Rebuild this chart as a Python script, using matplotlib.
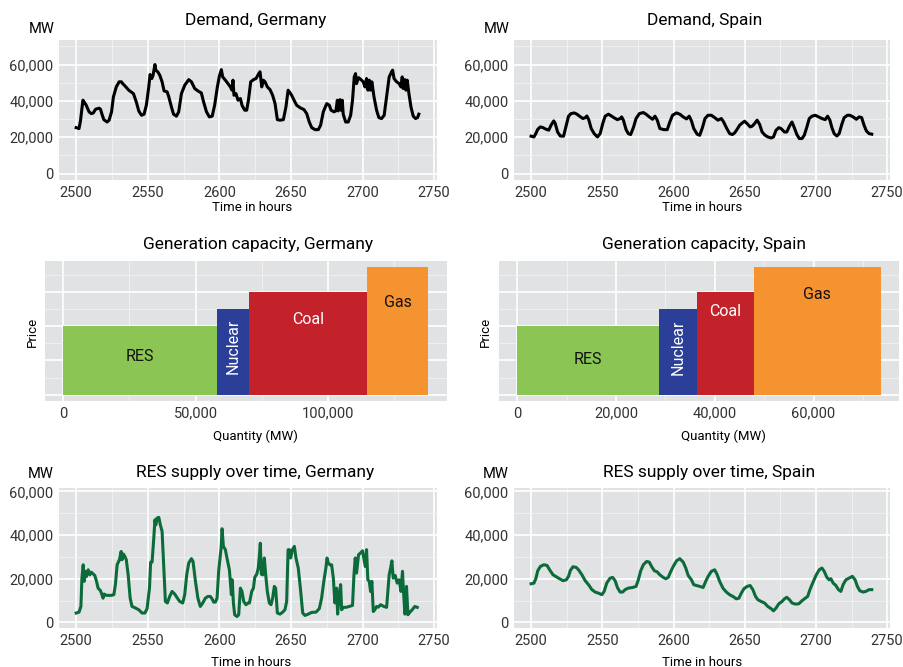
import matplotlib
matplotlib.use("Agg")
import matplotlib.pyplot as plt
from matplotlib.ticker import FuncFormatter, MultipleLocator

plt.rcParams['font.family'] = ['Roboto', 'DejaVu Sans']

# ---------------- data ----------------
de_demand_h = [2500, 2502, 2503, 2504.7, 2506, 2507, 2509, 2510.5, 2512, 2513.5, 2516, 2517, 2518, 2519.3,
               2521.6, 2523, 2524.7, 2526, 2528, 2530, 2531.6, 2532.5, 2534, 2536.7, 2539, 2540, 2542, 2543.7,
               2545.6, 2547.4, 2549, 2550.7, 2551.6, 2552.8, 2553.7, 2555, 2555.6, 2557, 2558.4, 2560, 2561.4,
               2563.5, 2564.7, 2566.5, 2568, 2570, 2571.6, 2573.5, 2575.8, 2578.6, 2580.5, 2582.8, 2585, 2587.4,
               2589, 2591, 2593, 2595, 2596.7, 2598.6, 2600, 2601.4, 2602.3, 2604.2, 2606, 2607.7, 2608.8,
               2609.5, 2610.2, 2611.6, 2613, 2614.7, 2615.8, 2617.7, 2619.1, 2620.3, 2621.9, 2623.8, 2625.6,
               2627.5, 2628.4, 2629.6, 2630.7, 2631.9, 2633.5, 2635.4, 2637.2, 2638.9, 2640.5, 2642.4, 2644.7,
               2646.5, 2648, 2648.9, 2650.5, 2652.4, 2654, 2656.3, 2659.1, 2661, 2662.8, 2664.5, 2666.8, 2669.1,
               2670.7, 2672.6, 2675, 2676.8, 2678, 2680, 2681.4, 2682.4, 2683, 2684.2, 2684.9, 2685.8, 2686.5,
               2688.2, 2690, 2691.7, 2693, 2694.2, 2695.1, 2695.8, 2697.2, 2698.9, 2700.5, 2701.7, 2702.8,
               2703.8, 2704.7, 2705.6, 2706.5, 2708, 2709.8, 2711.4, 2713.3, 2715.1, 2716.8, 2718.6, 2720.3,
               2721, 2722, 2723.8, 2725.6, 2726.8, 2727.7, 2728.4, 2729.6, 2730.3, 2731.2, 2732.4, 2733.8,
               2735.4, 2737, 2738.4, 2739.3]
de_demand = [25300, 24800, 29000, 40400, 38900, 37600, 34000, 33000, 33400, 35400, 36000, 35400, 32700, 29700,
             28400, 29400, 34000, 42200, 47700, 50500, 50500, 49500, 48300, 45900, 44600, 44000, 39400, 34500,
             32100, 32700, 37600, 47700, 54500, 52300, 54100, 60000, 56900, 56000, 54100, 50500, 45500,
             45000, 42200, 36700, 32700, 31600, 34000, 44000, 48600, 51700, 50500, 46800, 45500, 44400,
             39400, 34000, 31200, 31600, 37600, 47700, 53600, 57200, 53200, 51400, 49500, 47700, 45900,
             51400, 43100, 44000, 40400, 41300, 37600, 34900, 34900, 40400, 50500, 51700, 52300,
             55000, 56000, 47700, 51400, 50500, 47700, 46200, 43100, 38500, 29700, 29400, 29700,
             36700, 45900, 45000, 43100, 40000, 37600, 36300, 35200, 33000, 28400, 25300, 24200, 24200,
             26600, 34000, 38500, 37600, 34900, 34000, 34500, 40400, 34500, 40700, 34900, 40400, 32700,
             28400, 28400, 32100, 40400, 53200, 55000, 49500, 52800, 51700, 50500, 47700, 52300,
             45900, 51400, 45900, 50500, 42200, 34900, 30800, 30300, 32100, 42200, 53200, 56000,
             56900, 52300, 50500, 49500, 47700, 53200, 46800, 51700, 45900, 51400, 44000, 36700,
             31600, 30300, 30800, 32700]

es_demand_h = [2500, 2502, 2503.3, 2504.7, 2506.5, 2508.4, 2510, 2512.4, 2514, 2515.9, 2517, 2518.6, 2520.5,
               2522.8, 2524.7, 2526.3, 2528, 2530.3, 2532.2, 2534, 2536.4, 2538, 2539.2, 2540.6, 2542.2, 2544.3,
               2546.6, 2548.5, 2550.3, 2552, 2554.3, 2556.6, 2558.5, 2560.6, 2562.5, 2563.6, 2564.8, 2566.7,
               2568.3, 2569.9, 2571.8, 2573.7, 2576, 2578.8, 2580.7, 2583, 2585.3, 2587, 2588.6, 2590.4, 2593.2,
               2595.6, 2597.4, 2599.3, 2602.1, 2604.4, 2606.8, 2609.1, 2611, 2612.6, 2614.2, 2616.6, 2618.4,
               2620.3, 2622.1, 2624.2, 2626.6, 2628.9, 2631.2, 2633.6, 2635.2, 2637.1, 2639.4, 2641.3, 2642.9,
               2644.5, 2646.4, 2648.3, 2649.9, 2651.7, 2653.8, 2655.2, 2656.9, 2658.7, 2660.4, 2662.2, 2664.3,
               2666.2, 2668.5, 2670.2, 2672, 2673.9, 2675.5, 2677.9, 2679.5, 2681.4, 2683.2, 2684.8, 2686.5,
               2688.3, 2690.2, 2691.8, 2693.5, 2695.3, 2697.2, 2699.5, 2701.9, 2704.2, 2706.5, 2708.2, 2709.8,
               2711.2, 2712.8, 2714.7, 2716.3, 2718.2, 2719.8, 2722.1, 2723.8, 2726.1, 2728.4, 2730.3, 2732.1,
               2733.8, 2735.4, 2737.3, 2739.2]
es_demand = [20600, 20200, 22000, 24400, 25700, 25300, 24600, 23900, 26600, 29000, 27500, 22900, 20700,
             20600, 26600, 31600, 33000, 33400, 32700, 31600, 30300, 30800, 31700, 29400, 24800, 22000,
             20200, 22000, 27500, 31600, 32700, 31600, 30600, 29700, 30300, 31200, 29400, 24200,
             22000, 21500, 25300, 30300, 33000, 33600, 32700, 31200, 29900, 31600, 29400, 24800, 24200,
             24200, 28400, 32100, 33400, 32700, 31200, 30100, 31600, 29000, 24800, 21700, 21100,
             25300, 30300, 32100, 32100, 30800, 29400, 30300, 28400, 25300, 22000, 21500, 22400,
             24200, 26600, 27900, 28800, 27500, 25700, 26100, 27500, 29400, 27200, 22900, 21100,
             20200, 19600, 20200, 23900, 25300, 24800, 22900, 22900, 26100, 28400, 25300, 21700,
             19300, 19300, 21100, 25300, 30300, 31600, 32100, 31200, 30300, 29700, 31600, 29400,
             25300, 22000, 20700, 22000, 27200, 30800, 32100, 32100, 31200, 29900, 31200, 30800,
             26600, 23500, 22000, 21700]

de_res_h = [2500, 2502, 2503.3, 2504, 2504.9, 2505.6, 2506.5, 2507.2, 2508.4, 2509.5, 2510.5, 2512, 2513,
            2514.2, 2515.3, 2517, 2518, 2518.8, 2519.5, 2521, 2522.8, 2524.7, 2526.3, 2527.4, 2528.6, 2530.2,
            2531.4, 2532, 2533, 2534, 2535, 2536.3, 2537.7, 2539, 2541.4, 2543.7, 2546, 2548, 2549.5, 2551.2,
            2552, 2553, 2554.2, 2555, 2555.6, 2556.5, 2557.7, 2558.8, 2560, 2561, 2562.3, 2563.7, 2565.3,
            2567, 2568.8, 2570.7, 2572.3, 2574.4, 2575.8, 2577.2, 2578.6, 2580.5, 2581.6, 2583.3, 2585,
            2586.7, 2588.4, 2590.2, 2592, 2593.7, 2594.9, 2596, 2597.2, 2598.4, 2599.5, 2601.2, 2601.9,
            2602.8, 2604.2, 2605.3, 2607, 2608.4, 2609, 2609.8, 2610.7, 2612.3, 2613.5, 2614.7, 2615.8,
            2617, 2618.6, 2620, 2621, 2622.6, 2623.8, 2624.7, 2626.1, 2627.2, 2628, 2628.6, 2629.3, 2630.3,
            2631.4, 2632.4, 2633.5, 2634.9, 2636.1, 2637.2, 2638.4, 2639.3, 2640.5, 2642.4, 2644.2, 2645.8,
            2647, 2648, 2648.9, 2649.8, 2651, 2652.4, 2653.5, 2655.1, 2656.8, 2658.2, 2659.8, 2662.1,
            2664.5, 2667.5, 2669.8, 2671.4, 2673.1, 2674.4, 2675.2, 2676.1, 2677.2, 2678.4, 2679.6,
            2680.7, 2681.9, 2682.6, 2683.5, 2684.7, 2685.4, 2686.5, 2688.4, 2690.7, 2693, 2694, 2694.9,
            2695.8, 2697.2, 2698.6, 2700, 2700.9, 2701.9, 2702.8, 2703.7, 2704.7, 2705.6, 2706.5, 2707.5,
            2708.6, 2709.8, 2711, 2712.6, 2714.9, 2716.8, 2718.6, 2719.6, 2720.5, 2721.4, 2722.8, 2724.2,
            2725.6, 2726.8, 2727.9, 2728.6, 2729.6, 2730.7, 2731.7, 2733.1, 2734.7, 2736.5, 2738.2]
de_res = [4300, 4700, 7300, 20300, 26400, 18800, 23400, 21000, 24100, 21800, 23000, 22100, 21500,
          18800, 15700, 14500, 12700, 11100, 13000, 12400, 12400, 12400, 12700, 17300, 26400, 28700,
          32500, 28700, 31300, 30200, 28700, 21800, 11100, 7300, 6600, 5800, 4300, 4300, 6300, 15700,
          27600, 27600, 38600, 47000, 44600, 47800, 48100, 44600, 41700, 27900, 9600, 8900, 11900,
          14200, 13000, 11100, 9600, 8900, 12700, 21800, 27200, 29200, 27900, 18800, 11100,
          7300, 8900, 11100, 11900, 11900, 10800, 9300, 9300, 11100, 23400, 34000, 42900,
          34800, 33300, 29500, 24100, 12700, 19500, 8900, 3500, 2700, 3500, 15700, 14200,
          9600, 8100, 8900, 8900, 14200, 15700, 20600, 22100, 24900, 31000, 36300, 22100, 21800,
          29500, 21500, 14200, 8900, 8100, 11100, 16500, 15700, 4300, 3800, 4700, 5800,
          9600, 33300, 33300, 29500, 33300, 34800, 29500, 24900, 14200, 4300, 3200, 3800,
          4600, 4700, 6300, 11100, 19500, 24900, 29500, 27200, 26400, 26400, 20300,
          8900, 15700, 3800, 11100, 17300, 5800, 6900, 6900, 7300, 7800, 21800, 29500,
          22600, 31000, 31800, 32800, 29500, 25600, 33300, 19500, 18800, 14200, 18800, 5000,
          5800, 7300, 7000, 8100, 7300, 6900, 21800, 24900, 28200, 20300, 21500, 18000,
          19500, 14200, 23400, 14200, 3800, 16500, 3500, 4700, 5800, 7300, 6900]

es_res_h = [2500, 2502, 2503.3, 2504.7, 2506.5, 2508.9, 2511.2, 2513, 2515.4, 2517.7, 2520, 2522.4, 2524.7,
            2526.3, 2527.5, 2529.4, 2531.7, 2533.3, 2535.7, 2538, 2540.3, 2542.7, 2545, 2547.3, 2549.7,
            2551.3, 2553.1, 2555.5, 2557.3, 2559, 2560.6, 2562.5, 2564.3, 2566, 2568.3, 2571.3, 2573.7,
            2575.3, 2577, 2578.8, 2581.1, 2583, 2584.6, 2586.5, 2588.6, 2590.4, 2592.8, 2594.6, 2596.3,
            2597.9, 2599.8, 2602.1, 2604.4, 2606.8, 2608.6, 2610.3, 2612.6, 2614.2, 2616.1, 2618.4, 2620.8,
            2622.6, 2624.3, 2626.6, 2628.9, 2630.5, 2632.4, 2634.7, 2637.1, 2639.4, 2641.7, 2644.1, 2645.9,
            2647.6, 2649.4, 2651.7, 2653.8, 2655.7, 2657.6, 2659.2, 2661.5, 2663.9, 2666.2, 2668.5, 2670.2,
            2672, 2673.9, 2676.2, 2677.9, 2679.5, 2681.4, 2683.2, 2685.5, 2687.9, 2690.2, 2692.5, 2694.2,
            2695.8, 2697.7, 2700, 2702.3, 2704.2, 2705.8, 2707.7, 2709.3, 2710.5, 2712.1, 2714, 2715.8,
            2717.5, 2719.1, 2721, 2723.3, 2725.6, 2727.5, 2729.1, 2730.8, 2733.1, 2735, 2737.3, 2739.2]
es_res = [17700, 18000, 20000, 23700, 25600, 26400, 26100, 24100, 21800, 20900, 20000, 19100, 19500,
          21100, 23700, 25500, 25200, 24100, 21800, 19100, 17300, 15000, 13900, 13400, 12700,
          14200, 18000, 20300, 20600, 19100, 16000, 13900, 13900, 15000, 15700, 16000, 16500,
          19500, 23700, 26400, 27900, 27600, 25600, 23700, 23100, 21800, 20600, 20000, 20600,
          23100, 25600, 28200, 29200, 27600, 24900, 21500, 19500, 17300, 16900, 16500, 16000,
          18800, 21100, 23400, 24100, 22100, 18800, 15700, 13900, 12700, 11900, 10800, 11100,
          13400, 15400, 16500, 16900, 15000, 11900, 10400, 9600, 8900, 7300, 6300, 5300,
          6600, 8500, 9600, 10800, 11500, 10400, 8900, 8400, 8500, 9900, 11100, 11900,
          15000, 18000, 21500, 24100, 24900, 23400, 20600, 19500, 20000, 18000, 16900, 15000,
          14200, 17300, 19500, 20300, 21100, 19500, 16500, 14500, 13900, 14200, 15000, 15000]

technologies = ["RES", "Nuclear", "Coal", "Gas"]
de_capacity = [58200, 12100, 44300, 23400]      # MW per technology
es_capacity = [28800, 7700, 11400, 25700]
price_level = [4, 5, 6, 7.45]                    # relative price (no scale shown)
de_label_y = [2.23, 2.8, 4.37, 5.38]
es_label_y = [2.04, 2.76, 4.85, 5.86]

# ---------------- style ----------------
BG = "#E1E2E4"
TICK = "#333333"
W, H = 904, 667
bar_colors = ["#8BC553", "#2B3F98", "#C4222A", "#F69331"]
text_colors = ["#111111", "white", "white", "#111111"]

fig = plt.figure(figsize=(W / 100, H / 100), dpi=100)
fig.patch.set_facecolor("white")


def add_ax(x0, y0, x1, y1):
    return fig.add_axes([x0 / W, 1 - y1 / H, (x1 - x0) / W, (y1 - y0) / H])


def style(ax):
    ax.set_facecolor(BG)
    for s in ax.spines.values():
        s.set_visible(False)
    ax.grid(which="major", color="white", linewidth=1.2)
    ax.grid(which="minor", color="#F2F2F3", linewidth=0.6)
    ax.set_axisbelow(True)
    ax.tick_params(which="major", length=0, labelcolor=TICK, labelsize=10.5, pad=4)
    ax.tick_params(which="minor", length=0)


comma = FuncFormatter(lambda v, p: f"{int(v):,}")


def ftext(x, y, s, **kw):
    fig.text(x / W, 1 - y / H, s, ha="center", va="center", **kw)


def line_panel(rect, hours, vals, color, ylim, title, tpos, mwpos, xlpos):
    ax = add_ax(*rect)
    style(ax)
    ax.plot(hours, vals, color=color, linewidth=2.2, solid_joinstyle="round")
    ax.set_xlim(2488, 2752)
    ax.set_ylim(*ylim)
    ax.xaxis.set_major_locator(MultipleLocator(50))
    ax.xaxis.set_minor_locator(MultipleLocator(25))
    ax.yaxis.set_major_locator(MultipleLocator(20000))
    ax.yaxis.set_minor_locator(MultipleLocator(10000))
    ax.yaxis.set_major_formatter(comma)
    ftext(*tpos, title, fontsize=12.5, color="black")
    ftext(*mwpos, "MW", fontsize=10.5, color="black")
    ftext(*xlpos, "Time in hours", fontsize=9.5, color="black")
    return ax


def bar_panel(rect, caps, label_y, title, tpos, xlpos, plpos, xmajor, xlim):
    ax = add_ax(*rect)
    style(ax)
    left = 0
    for cap, p, col, tc, name, ly in zip(caps, price_level, bar_colors, text_colors, technologies, label_y):
        ax.bar(left, p, width=cap, align="edge", color=col, linewidth=0)
        ax.text(left + cap / 2, ly, name, ha="center", va="center", color=tc, fontsize=11.5,
                rotation=90 if name == "Nuclear" else 0)
        left += cap
    ax.set_xlim(*xlim)
    ax.set_ylim(-0.37, 7.82)
    ax.xaxis.set_major_locator(MultipleLocator(xmajor))
    ax.xaxis.set_minor_locator(MultipleLocator(xmajor / 2))
    ax.xaxis.set_major_formatter(comma)
    ax.yaxis.set_major_locator(MultipleLocator(2))
    ax.yaxis.set_minor_locator(MultipleLocator(1))
    ax.tick_params(axis="y", which="major", labelleft=False, length=0)
    ftext(*tpos, title, fontsize=12.5, color="black")
    ftext(*xlpos, "Quantity (MW)", fontsize=9.5, color="black")
    ftext(*plpos, "Price", fontsize=9.5, color="black", rotation=90)
    return ax


line_panel((59, 40, 437, 180), de_demand_h, de_demand, "black", (-3500, 73500),
           "Demand, Germany", (256, 20), (42, 29), (252, 208))
line_panel((514, 40, 890, 180), es_demand_h, es_demand, "black", (-3500, 73500),
           "Demand, Spain", (705, 20), (497, 29), (702, 208))

bar_panel((45, 261, 447, 401), de_capacity, de_label_y, "Generation capacity, Germany",
          (258, 244), (255, 436), (32, 332), 50000, (-6900, 145000))
bar_panel((499, 261, 899, 401), es_capacity, es_label_y, "Generation capacity, Spain",
          (704, 244), (723, 436), (485, 332), 20000, (-3680, 77300))

line_panel((59, 488, 437, 628), de_res_h, de_res, "#0B6B3A", (-2560, 61560),
           "RES supply over time, Germany", (255, 472), (41, 474), (251, 662))
line_panel((514, 488, 890, 628), es_res_h, es_res, "#0B6B3A", (-2560, 61560),
           "RES supply over time, Spain", (709, 472), (496, 474), (702, 662))

fig.savefig("out.png", dpi=100, facecolor="white")
